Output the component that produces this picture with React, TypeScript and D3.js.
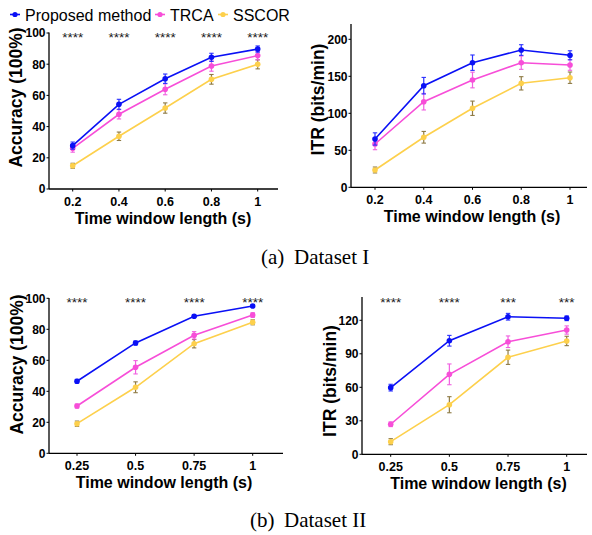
import React from "react";
import * as d3 from "d3";

// ---------- data ----------
const seriesNames = ["Proposed method", "TRCA", "SSCOR"];
const seriesColors = ["#0a10f5", "#f74ed8", "#fdd04c"];
const errColors = ["#2a30ff", "#f060e0", "#8f7b45"];

const ds1X = [0.2, 0.4, 0.6, 0.8, 1];
const ds1XLabels = ["0.2", "0.4", "0.6", "0.8", "1"];
const ds2X = [0.25, 0.5, 0.75, 1];
const ds2XLabels = ["0.25", "0.5", "0.75", "1"];

const ds1AccProposed = [27.8, 54.3, 70.7, 84.4, 89.7];
const ds1AccProposedErr = [2.3, 3.2, 3.0, 2.6, 2.0];
const ds1AccTRCA = [26.1, 47.9, 63.9, 78.8, 85.5];
const ds1AccTRCAErr = [2.5, 3.0, 3.5, 3.3, 2.7];
const ds1AccSSCOR = [14.9, 33.8, 51.9, 70.3, 79.9];
const ds1AccSSCORErr = [1.6, 2.7, 3.3, 3.1, 2.9];
const ds1AccStars = ["****", "****", "****", "****", "****"];

const ds1ItrProposed = [65.3, 137.3, 168.4, 185.5, 178.4];
const ds1ItrProposedErr = [8.3, 11.2, 10.4, 7.2, 6.1];
const ds1ItrTRCA = [58.5, 115.7, 145, 168.4, 165.3];
const ds1ItrTRCAErr = [7.7, 11.2, 10.6, 9, 7.2];
const ds1ItrSSCOR = [23.4, 67.6, 106.8, 140.5, 148.1];
const ds1ItrSSCORErr = [4, 7.9, 9.7, 9, 7.7];

const ds2AccProposed = [46.5, 71.2, 88.4, 95.0];
const ds2AccProposedErr = [1.2, 1.3, 0.8, 0.8];
const ds2AccTRCA = [30.5, 55.5, 76.1, 89.2];
const ds2AccTRCAErr = [1.3, 4.3, 2.4, 1.5];
const ds2AccSSCOR = [19.1, 42.6, 70.7, 84.5];
const ds2AccSSCORErr = [1.7, 3.5, 2.7, 1.6];
const ds2AccStars = ["****", "****", "****", "****"];

const ds2ItrProposed = [59.7, 101.7, 123.2, 121.8];
const ds2ItrProposedErr = [3, 4.8, 3, 2.1];
const ds2ItrTRCA = [26.9, 71.6, 100.8, 111.3];
const ds2ItrTRCAErr = [2.1, 9.3, 5.2, 3.7];
const ds2ItrSSCOR = [11.3, 44.4, 86.9, 101.5];
const ds2ItrSSCORErr = [2.7, 7.2, 6.4, 4.2];
const ds2ItrStars = ["****", "****", "***", "***"];

const yTicksAcc = [0, 20, 40, 60, 80, 100];
const yTicksItr1 = [0, 50, 100, 150, 200];
const yTicksItr2 = [0, 30, 60, 90, 120];

// ---------- layout ----------
const SANS = "'Liberation Sans', Arial, Helvetica, sans-serif";
const SERIF = "'Liberation Serif', 'Times New Roman', Times, serif";

type Panel = {
  xs: number[];
  xLabels: string[];
  series: number[][];
  errs: number[][];
  stars?: string[];
  yTicks: number[];
  yMax: number;
  yTitle: string;
  tickPx: [number, number];
  axisX: [number, number];
  yPx: [number, number];
  axisTop: number;
  yTitlePos: [number, number];
  xTitleX: number;
  starY: number;
};

const panels: Panel[] = [
  {
    xs: ds1X, xLabels: ds1XLabels,
    series: [ds1AccProposed, ds1AccTRCA, ds1AccSSCOR],
    errs: [ds1AccProposedErr, ds1AccTRCAErr, ds1AccSSCORErr],
    stars: ds1AccStars, yTicks: yTicksAcc, yMax: 100, yTitle: "Accuracy (100%)",
    tickPx: [72.7, 257.7], axisX: [49, 278], yPx: [189, 33], axisTop: 32.5,
    yTitlePos: [22, 97.5], xTitleX: 163, starY: 42,
  },
  {
    xs: ds1X, xLabels: ds1XLabels,
    series: [ds1ItrProposed, ds1ItrTRCA, ds1ItrSSCOR],
    errs: [ds1ItrProposedErr, ds1ItrTRCAErr, ds1ItrSSCORErr],
    yTicks: yTicksItr1, yMax: 200, yTitle: "ITR (bits/min)",
    tickPx: [375, 570], axisX: [351, 587], yPx: [187.3, 39.3], axisTop: 24,
    yTitlePos: [324, 99.5], xTitleX: 472, starY: 0,
  },
  {
    xs: ds2X, xLabels: ds2XLabels,
    series: [ds2AccProposed, ds2AccTRCA, ds2AccSSCOR],
    errs: [ds2AccProposedErr, ds2AccTRCAErr, ds2AccSSCORErr],
    stars: ds2AccStars, yTicks: yTicksAcc, yMax: 100, yTitle: "Accuracy (100%)",
    tickPx: [77, 252.7], axisX: [49, 283], yPx: [453.3, 298.3], axisTop: 298,
    yTitlePos: [23, 364.5], xTitleX: 164, starY: 306.5,
  },
  {
    xs: ds2X, xLabels: ds2XLabels,
    series: [ds2ItrProposed, ds2ItrTRCA, ds2ItrSSCOR],
    errs: [ds2ItrProposedErr, ds2ItrTRCAErr, ds2ItrSSCORErr],
    stars: ds2ItrStars, yTicks: yTicksItr2, yMax: 120, yTitle: "ITR (bits/min)",
    tickPx: [390.7, 566.7], axisX: [362, 587], yPx: [454.3, 320.3], axisTop: 297,
    yTitlePos: [336, 381], xTitleX: 478.5, starY: 306.5,
  },
];

function PanelView({ p }: { p: Panel }) {
  const x = d3.scaleLinear().domain([p.xs[0], p.xs[p.xs.length - 1]]).range(p.tickPx);
  const y = d3.scaleLinear().domain([0, p.yMax]).range(p.yPx);
  const line = d3.line<number>().x((_, i) => x(p.xs[i])).y((v) => y(v));
  const y0 = y(0);
  return (
    <g>
      <line x1={p.axisX[0]} x2={p.axisX[1]} y1={y0} y2={y0} stroke="#000" strokeWidth={1.3} />
      <line x1={p.axisX[0]} x2={p.axisX[0]} y1={y0} y2={p.axisTop} stroke="#000" strokeWidth={1.3} />
      {p.yTicks.map((t) => (
        <g key={"y" + t}>
          <line x1={p.axisX[0] - 2.5} x2={p.axisX[0]} y1={y(t)} y2={y(t)} stroke="#000" strokeWidth={1} />
          <text x={p.axisX[0] - 3.5} y={y(t) + 4.3} textAnchor="end" fontFamily={SANS} fontWeight="bold" fontSize={12}>{t}</text>
        </g>
      ))}
      {p.xs.map((v, i) => (
        <g key={"x" + v}>
          <line x1={x(v)} x2={x(v)} y1={y0} y2={y0 + 2.5} stroke="#000" strokeWidth={1} />
          <text x={x(v)} y={y0 + 17} textAnchor="middle" fontFamily={SANS} fontWeight="bold" fontSize={12.5}>{p.xLabels[i]}</text>
        </g>
      ))}
      <text x={p.xTitleX} y={y0 + 34.5} textAnchor="middle" fontFamily={SANS} fontWeight="bold" fontSize={16}>Time window length (s)</text>
      <text transform={`translate(${p.yTitlePos[0]},${p.yTitlePos[1]}) rotate(-90)`} textAnchor="middle" fontFamily={SANS} fontWeight="bold" fontSize={17.5}>{p.yTitle}</text>
      {p.stars && p.stars.map((s, i) => (
        <text key={"s" + i} x={x(p.xs[i])} y={p.starY} textAnchor="middle" fontFamily={SANS} fontSize={13.5} fill="#1a1a1a">{s}</text>
      ))}
      {[2, 1, 0].map((si) => (
        <g key={"ser" + si}>
          <path d={line(p.series[si]) || ""} fill="none" stroke={seriesColors[si]} strokeWidth={1.6} />
          {p.series[si].map((v, i) => {
            const cx = x(p.xs[i]);
            const e = p.errs[si][i];
            return (
              <g key={i}>
                <line x1={cx} x2={cx} y1={y(v - e)} y2={y(v + e)} stroke={errColors[si]} strokeWidth={1.2} />
                <line x1={cx - 2.2} x2={cx + 2.2} y1={y(v - e)} y2={y(v - e)} stroke={errColors[si]} strokeWidth={1.1} />
                <line x1={cx - 2.2} x2={cx + 2.2} y1={y(v + e)} y2={y(v + e)} stroke={errColors[si]} strokeWidth={1.1} />
                <circle cx={cx} cy={y(v)} r={2.8} fill={seriesColors[si]} />
              </g>
            );
          })}
        </g>
      ))}
    </g>
  );
}

const legendX = [10, 155, 218];
const legendTextX = [25, 170, 233];

export default function App() {
  return (
    <svg width={592} height={535} style={{ position: "absolute", left: 0, top: 0, background: "#fff" }}>
      <rect width={592} height={535} fill="#fff" />
      {seriesNames.map((n, i) => (
        <g key={n}>
          <line x1={legendX[i]} x2={legendX[i] + 10} y1={14.5} y2={14.5} stroke={seriesColors[i]} strokeWidth={1.6} />
          <circle cx={legendX[i] + 5} cy={14.5} r={2.6} fill={seriesColors[i]} />
          <text x={legendTextX[i]} y={20.5} fontFamily={SANS} fontSize={16}>{n}</text>
        </g>
      ))}
      {panels.map((p, i) => <PanelView key={i} p={p} />)}
      <text x={261} y={264} fontFamily={SERIF} fontSize={21}>(a)</text>
      <text x={294} y={264} fontFamily={SERIF} fontSize={21}>Dataset I</text>
      <text x={250} y={527} fontFamily={SERIF} fontSize={21}>(b)</text>
      <text x={284} y={527} fontFamily={SERIF} fontSize={21}>Dataset II</text>
    </svg>
  );
}
